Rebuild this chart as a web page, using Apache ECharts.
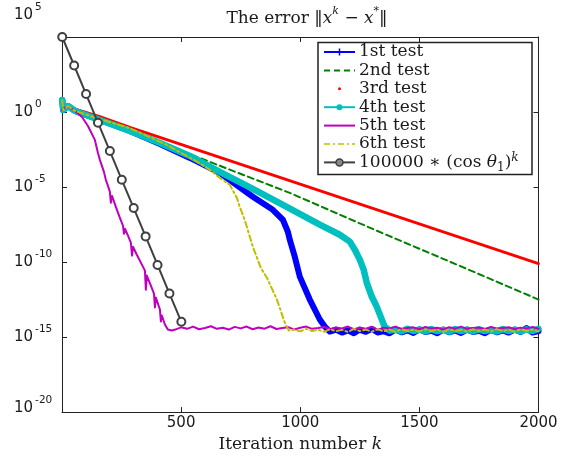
<!DOCTYPE html>
<html><head><meta charset="utf-8">
<script src="https://cdn.jsdelivr.net/npm/echarts@6/dist/echarts.min.js"></script>
<style>html,body{margin:0;padding:0;background:#fff}#c{width:563px;height:458px}</style>
</head><body><div id="c"></div>
<script>
// ---------- data: [iteration k, log10(error)] ----------
const xTicks = [500, 1000, 1500, 2000];
const yTickExponents = [5, 0, -5, -10, -15, -20];
const legendNames = ['1st test', '2nd test', '3rd test', '4th test', '5th test', '6th test', '100000 ∗ (cos θ1)^k'];

const test1 = [[1,0.8],[5,0.13],[25,0.4],[55,0.07],[159,-0.53],[285,-1.26],[411,-2.13],[537,-3.06],[662,-4.06],[801,-5.65],[885,-6.52],[927,-7.18],[948,-7.98],[956,-8.51],[977,-9.64],[998,-10.97],[1040,-12.5],[1082,-13.83],[1103,-14.3],[1124,-14.63]];
const test1Floor = [[1150,-14.5],[1175,-14.7],[1200,-14.55],[1225,-14.75],[1250,-14.5],[1275,-14.65],[1300,-14.45],[1325,-14.7],[1350,-14.6],[1375,-14.75],[1400,-14.5],[1425,-14.68],[1450,-14.55],[1475,-14.72],[1500,-14.48],[1525,-14.66],[1550,-14.58],[1575,-14.74],[1600,-14.5],[1625,-14.68],[1650,-14.56],[1675,-14.72],[1700,-14.5],[1725,-14.66],[1750,-14.58],[1775,-14.74],[1800,-14.52],[1825,-14.68],[1850,-14.55],[1875,-14.7],[1900,-14.5],[1925,-14.66],[1950,-14.4],[1975,-14.7],[2000,-14.6]];

const test2 = [[1,0.27],[10,0.35],[25,0.45],[55,0.2],[159,-0.35],[285,-1.1],[453,-2.29],[717,-3.92],[956,-5.39],[1321,-7.91],[1669,-10.25],[2000,-12.5]];

const test3 = [[1,0.27],[10,0.35],[25,0.45],[55,0.2],[159,-0.3],[285,-1.02],[2000,-10.1]];

const test4 = [[1,0.8],[5,0.13],[25,0.4],[55,0.07],[159,-0.53],[285,-1.26],[411,-2.06],[537,-2.93],[662,-3.99],[801,-5.12],[943,-6.32],[1082,-7.51],[1166,-8.18],[1208,-8.64],[1229,-9.18],[1250,-9.84],[1266,-10.5],[1279,-11.37],[1300,-12.3],[1321,-12.97],[1354,-14.3],[1375,-14.56]];
const test4Floor = [[1400,-14.5],[1425,-14.62],[1450,-14.45],[1475,-14.6],[1500,-14.5],[1525,-14.63],[1550,-14.47],[1575,-14.6],[1600,-14.52],[1625,-14.64],[1650,-14.46],[1675,-14.6],[1700,-14.5],[1725,-14.62],[1750,-14.48],[1775,-14.6],[1800,-14.52],[1825,-14.63],[1850,-14.47],[1875,-14.6],[1900,-14.5],[1925,-14.62],[1950,-14.48],[1975,-14.6],[2000,-14.45]];

const test5 = [[1,0.13],[17,0.33],[29,0.33],[55,0.07],[84,-0.33],[109,-0.93],[138,-1.86],[151,-2.73],[159,-3.19],[176,-3.99],[184,-4.52],[193,-4.92],[201,-5.32],[205,-6.05],[210,-5.59],[226,-6.32],[243,-7.05],[256,-7.58],[260,-8.11],[264,-7.78],[277,-8.24],[289,-8.71],[294,-9.57],[298,-8.98],[314,-9.51],[331,-10.04],[348,-10.57],[352,-11.84],[356,-10.9],[373,-11.57],[386,-12.1],[390,-13.03],[394,-12.37],[411,-13.16],[415,-13.96],[419,-13.56],[432,-14.16],[444,-14.49],[461,-14.56]];
const test5Floor = [[475,-14.5],[500,-14.35],[525,-14.45],[550,-14.3],[575,-14.48],[600,-14.4],[625,-14.28],[650,-14.45],[675,-14.38],[700,-14.5],[725,-14.32],[750,-14.42],[775,-14.3],[800,-14.48],[825,-14.36],[850,-14.44],[875,-14.28],[900,-14.46],[925,-14.4],[950,-14.34],[975,-14.5],[1000,-14.38],[1025,-14.3],[1050,-14.45],[1075,-14.4],[1100,-14.33],[1125,-14.48],[1150,-14.36],[1175,-14.42],[1200,-14.3],[1225,-14.47],[1250,-14.38],[1275,-14.44],[1300,-14.32],[1325,-14.5],[1350,-14.37],[1375,-14.43],[1400,-14.3],[1425,-14.46],[1450,-14.4],[1475,-14.35],[1500,-14.48],[1525,-14.33],[1550,-14.42],[1575,-14.38],[1600,-14.5],[1625,-14.34],[1650,-14.44],[1675,-14.3],[1700,-14.45],[1725,-14.39],[1750,-14.36],[1775,-14.48],[1800,-14.32],[1825,-14.43],[1850,-14.4],[1875,-14.35],[1900,-14.47],[1925,-14.37],[1950,-14.42],[1975,-14.33],[2000,-14.45]];

const test6 = [[1,0.8],[5,0.13],[25,0.4],[55,0.07],[159,-0.47],[285,-1.08],[432,-2.13],[566,-3.3],[621,-3.86],[662,-4.39],[704,-4.85],[734,-5.72],[746,-6.32],[759,-6.85],[776,-7.65],[801,-8.98],[834,-10.37],[860,-11.04],[902,-12.5],[935,-14.03],[952,-14.56]];
const test6Floor = [[975,-14.5],[1000,-14.62],[1025,-14.45],[1050,-14.6],[1075,-14.5],[1100,-14.65],[1125,-14.48],[1150,-14.6],[1175,-14.52],[1200,-14.66],[1225,-14.46],[1250,-14.6],[1275,-14.5],[1300,-14.64],[1325,-14.48],[1350,-14.62],[1375,-14.5],[1400,-14.65],[1425,-14.47],[1450,-14.6],[1475,-14.52],[1500,-14.63],[1525,-14.48],[1550,-14.6],[1575,-14.5],[1600,-14.65],[1625,-14.47],[1650,-14.6],[1675,-14.52],[1700,-14.64],[1725,-14.48],[1750,-14.6],[1775,-14.5],[1800,-14.63],[1825,-14.47],[1850,-14.6],[1875,-14.52],[1900,-14.65],[1925,-14.48],[1950,-14.6],[1975,-14.5],[2000,-14.62]];

const boundK = [1, 51, 101, 151, 201, 251, 301, 351, 401, 451, 501];
const boundExp = [5, 3.1, 1.2, -0.71, -2.6, -4.52, -6.4, -8.29, -10.19, -12.1, -13.98];

// ---------- chart ----------
const toVal = arr => arr.map(p => [p[0], Math.pow(10, p[1])]);
const SERIF = 'DejaVu Serif';
const SANS = 'DejaVu Sans';
const TXT = '#1a1a1a';

const colors = {
  t1: '#0000ff', t2: '#008000', t3: '#ff0000', t4: '#00bfbf', t5: '#bf00bf', t6: '#bfbf00', b: '#404040'
};

function lineSeries(name, data, color, width, type, z) {
  return {
    name, type: 'line', data: toVal(data), showSymbol: false, symbol: 'none',
    lineStyle: { color, width, type: type || 'solid', join: 'round', cap: 'round' },
    itemStyle: { color }, z: z, silent: true, clip: true
  };
}

const yRich = {
  b: { fontFamily: SANS, fontSize: 15, color: TXT, lineHeight: 21, verticalAlign: 'bottom' },
  s: { fontFamily: SANS, fontSize: 10.5, color: TXT, lineHeight: 21, verticalAlign: 'top', padding: [0, 0, 0, 2] },
  g: { fontSize: 10, lineHeight: 44 },
  h: { fontSize: 10, lineHeight: 8 }
};

const xAxisBase = {
  type: 'value', min: 0, max: 2000, interval: 500,
  axisLine: { show: true, onZero: false, lineStyle: { color: '#222', width: 1 } },
  axisTick: { show: true, inside: true, length: 5, lineStyle: { color: '#222' } },
  splitLine: { show: false }
};
const yAxisBase = {
  type: 'log', logBase: 10, min: 1e-20, max: 1e5, interval: 5,
  axisLine: { show: true, onZero: false, lineStyle: { color: '#222', width: 1 } },
  axisTick: { show: true, inside: true, length: 5, lineStyle: { color: '#222' } },
  splitLine: { show: false }, minorTick: { show: false }
};

const legendStyles = [
  { color: colors.t1, dash: null, width: 2, marker: 'plus' },
  { color: colors.t2, dash: [6, 4], width: 2, marker: null },
  { color: colors.t3, dash: null, width: 0, marker: 'dot' },
  { color: colors.t4, dash: null, width: 2, marker: 'disc' },
  { color: colors.t5, dash: null, width: 2, marker: null },
  { color: colors.t6, dash: [6, 3, 2, 3], width: 1.5, marker: null },
  { color: colors.b, dash: null, width: 2, marker: 'circle' }
];

const LX = 318, LY = 42.5, LW = 214, LH = 132, ROW0 = 52, ROWH = 18.4, S0 = 324, S1 = 355, TX = 359;
const legendEls = [{ type: 'rect', shape: { x: LX, y: LY, width: LW, height: LH }, style: { fill: '#fff', stroke: '#222', lineWidth: 1.5 }, z: 100 }];
legendStyles.forEach((st, i) => {
  const y = ROW0 + i * ROWH;
  const mx = (S0 + S1) / 2;
  if (st.width > 0) legendEls.push({ type: 'line', shape: { x1: S0, y1: y, x2: S1, y2: y }, style: { stroke: st.color, lineWidth: st.width, lineDash: st.dash }, z: 101 });
  if (st.marker === 'plus') {
    legendEls.push({ type: 'line', shape: { x1: mx, y1: y - 3.5, x2: mx, y2: y + 3.5 }, style: { stroke: st.color, lineWidth: 1.5 }, z: 102 });
  } else if (st.marker === 'dot') {
    legendEls.push({ type: 'circle', shape: { cx: mx, cy: y, r: 1.5 }, style: { fill: st.color }, z: 102 });
  } else if (st.marker === 'disc') {
    legendEls.push({ type: 'circle', shape: { cx: mx, cy: y, r: 3 }, style: { fill: st.color }, z: 102 });
  } else if (st.marker === 'circle') {
    legendEls.push({ type: 'circle', shape: { cx: mx, cy: y, r: 3.5 }, style: { fill: '#888', stroke: st.color, lineWidth: 1.5 }, z: 102 });
  }
  let txt = '{n|' + legendNames[i] + '}';
  if (i === 6) txt = '{n|100000 ∗ (cos }{i|θ}{sb|1}{n|)}{sp|k}';
  legendEls.push({
    type: 'text', x: TX, y: y, z: 102,
    style: {
      text: txt, fill: TXT, verticalAlign: 'middle', align: 'left',
      rich: {
        n: { fontFamily: SERIF, fontSize: 17, fontWeight: 'normal', lineHeight: 22, verticalAlign: 'middle' },
        i: { fontFamily: SERIF, fontSize: 17, fontWeight: 'normal', fontStyle: 'italic', lineHeight: 22, verticalAlign: 'middle' },
        sb: { fontFamily: SERIF, fontSize: 12, fontWeight: 'normal', lineHeight: 22, verticalAlign: 'bottom' },
        sp: { fontFamily: SERIF, fontSize: 12, fontWeight: 'normal', fontStyle: 'italic', lineHeight: 22, verticalAlign: 'top' }
      }
    }
  });
});

const chart = echarts.init(document.getElementById('c'), null, { renderer: 'canvas' });
chart.setOption({
  animation: false,
  backgroundColor: '#fff',
  title: {
    text: '{n|The error ‖}{i|x}{s|k}{n| − }{i|x}{s|*}{n|‖}',
    left: 302, top: 0, textAlign: 'center',
    textStyle: {
      fontWeight: 'normal',
      rich: {
        n: { fontFamily: SERIF, fontSize: 17, fontWeight: 'normal', color: TXT, lineHeight: 22, verticalAlign: 'bottom' },
        i: { fontFamily: SERIF, fontSize: 17, fontWeight: 'normal', fontStyle: 'italic', color: TXT, lineHeight: 22, verticalAlign: 'bottom' },
        s: { fontFamily: SERIF, fontSize: 11, fontWeight: 'normal', fontStyle: 'italic', color: TXT, lineHeight: 22, verticalAlign: 'top', padding: [1, 0, 0, 0] }
      }
    }
  },
  grid: { left: 62, right: 24.5, top: 37, bottom: 45, containLabel: false },
  xAxis: [
    Object.assign({}, xAxisBase, {
      position: 'bottom',
      axisLabel: {
        show: true, margin: 4, fontFamily: SANS, fontSize: 15, color: TXT,
        formatter: v => (xTicks.indexOf(v) >= 0 ? String(v) : ''),
        showMinLabel: false
      },
      name: '{n|Iteration number }{i|k}', nameLocation: 'middle', nameGap: 17,
      nameTextStyle: {
        rich: {
          n: { fontFamily: SERIF, fontSize: 17, color: TXT },
          i: { fontFamily: SERIF, fontSize: 17, fontStyle: 'italic', color: TXT }
        }
      }
    }),
    Object.assign({}, xAxisBase, { position: 'top', axisLabel: { show: false } })
  ],
  yAxis: [
    Object.assign({}, yAxisBase, {
      position: 'left',
      axisLabel: {
        show: true, align: 'left', margin: 48, padding: [0, 0, 5, 0],
        formatter: v => {
          const e = Math.round(Math.log10(v));
          if (yTickExponents.indexOf(e) < 0) return '';
          const lab = '{b|10}{s|' + e + '}';
          if (e === 5) return lab + '\n{g| }';
          if (e === -20) return lab + '\n{h| }';
          return lab;
        },
        rich: yRich
      }
    }),
    Object.assign({}, yAxisBase, { position: 'right', axisLabel: { show: false } })
  ],
  graphic: legendEls,
  series: [
    lineSeries('1st test', test1.concat(test1Floor), colors.t1, 6, 'solid', 2),
    lineSeries('2nd test', test2, colors.t2, 2, [6, 4], 3),
    lineSeries('3rd test', test3, colors.t3, 2.8, 'solid', 4),
    lineSeries('4th test', test4.concat(test4Floor), colors.t4, 6.5, 'solid', 5),
    lineSeries('5th test', test5.concat(test5Floor), colors.t5, 2, 'solid', 6),
    lineSeries('6th test', test6.concat(test6Floor), colors.t6, 2, [6, 3, 2, 3], 7),
    {
      name: legendNames[6], type: 'line', z: 8, silent: true,
      data: boundK.map((k, i) => [k, Math.pow(10, boundExp[i])]),
      symbol: 'emptyCircle', symbolSize: 8, showSymbol: true,
      lineStyle: { color: colors.b, width: 2 },
      itemStyle: { color: colors.b, borderColor: colors.b, borderWidth: 1.5 }
    }
  ]
});
</script>
</body></html>
